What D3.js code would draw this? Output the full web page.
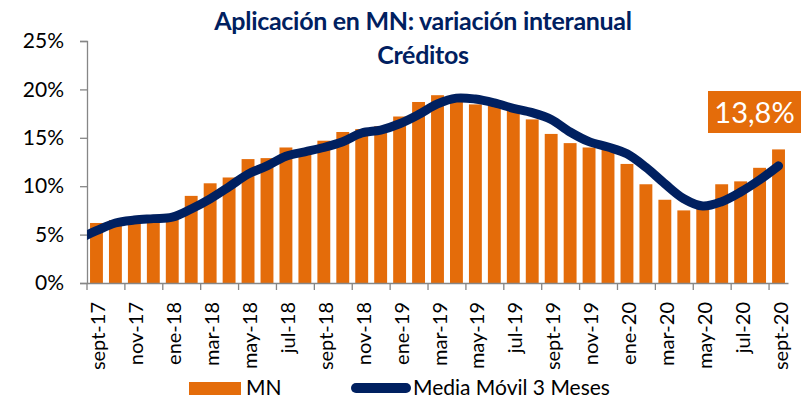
<!DOCTYPE html>
<html>
<head>
<meta charset="utf-8">
<script src="https://cdn.jsdelivr.net/npm/d3@7"></script>
<style>
  body { margin: 0; background: #fff; }
  text { font-family: Lato, "Open Sans", sans-serif; }
</style>
</head>
<body>
<svg width="802" height="400"></svg>
<script>
(function () {

  // months shown as bars
  const months = [
    "sept-17", "oct-17", "nov-17", "dic-17", "ene-18", "feb-18", "mar-18", "abr-18",
    "may-18", "jun-18", "jul-18", "ago-18", "sept-18", "oct-18", "nov-18", "dic-18",
    "ene-19", "feb-19", "mar-19", "abr-19", "may-19", "jun-19", "jul-19", "ago-19",
    "sept-19", "oct-19", "nov-19", "dic-19", "ene-20", "feb-20", "mar-20", "abr-20",
    "may-20", "jun-20", "jul-20", "ago-20", "sept-20"
  ];

  // MN, % interanual
  const mn = [
    6.2, 6.5, 6.6, 6.7, 6.9, 9.0, 10.3, 10.9,
    12.8, 12.9, 14.0, 13.6, 14.7, 15.6, 15.9, 16.2,
    17.2, 18.7, 19.4, 19.0, 18.45, 18.3, 17.9, 16.9,
    15.4, 14.45, 14.0, 13.8, 12.3, 10.2, 8.6, 7.5,
    8.0, 10.2, 10.5, 11.9, 13.8
  ];

  // media movil 3 meses, starting one month earlier (ago-17) -- clipped at the axis
  const maMonths = ["ago-17"].concat(months);
  const ma = [
    4.5, 5.4, 6.2, 6.5, 6.65, 6.8, 7.65, 8.7, 9.95,
    11.25, 12.1, 13.1, 13.55, 14.0, 14.6, 15.5, 15.8,
    16.45, 17.4, 18.5, 19.1, 19.0, 18.6, 18.05, 17.6,
    16.9, 15.6, 14.6, 14.05, 13.35, 11.95, 10.25, 8.7,
    7.95, 8.4, 9.4, 10.65, 12.1
  ];

  const yTicks = [0, 5, 10, 15, 20, 25];
  const titleLines = ["Aplicación en MN: variación interanual", "Créditos"];
  const legendItems = ["MN", "Media Móvil 3 Meses"];

  const orange = "#e46c0a";
  const navy = "#002060";
  const axisGrey = "#868686";

  const svg = d3.select("svg");
  const left = 87, right = 788, top = 41, bottom = 283;

  const x = d3.scaleBand()
    .domain(months)
    .range([left, right])
    .paddingInner(0.32)
    .paddingOuter(0.16);

  const y = d3.scaleLinear()
    .domain([0, 25])
    .range([bottom, top]);

  const step = x.step();
  const cx = m => m === "ago-17" ? x(months[0]) + x.bandwidth() / 2 - step
                                  : x(m) + x.bandwidth() / 2;

  // title
  svg.append("g")
    .selectAll("text")
    .data(titleLines)
    .enter().append("text")
    .attr("x", 423)
    .attr("y", (d, i) => 30 + i * 34)
    .attr("text-anchor", "middle")
    .attr("font-size", 25)
    .attr("font-weight", "bold")
    .attr("letter-spacing", -0.3)
    .attr("fill", navy)
    .text(d => d);

  // bars
  svg.append("g")
    .selectAll("rect")
    .data(mn)
    .enter().append("rect")
    .attr("x", (d, i) => x(months[i]))
    .attr("width", x.bandwidth())
    .attr("y", d => y(d))
    .attr("height", d => y(0) - y(d))
    .attr("fill", orange);

  // y axis
  const yAxis = svg.append("g")
    .attr("transform", `translate(${left},0)`)
    .call(d3.axisLeft(y).tickValues(yTicks).tickSize(7).tickPadding(16).tickFormat(d => d + "%"));
  yAxis.select(".domain").attr("stroke", axisGrey).attr("stroke-width", 1.3);
  yAxis.selectAll(".tick line").attr("stroke", axisGrey).attr("stroke-width", 1.3);
  yAxis.selectAll("text")
    .attr("font-size", 21)
    .attr("fill", "#000")
    .style("font-family", "Lato, sans-serif");

  // x axis
  const xAxis = svg.append("g")
    .attr("transform", `translate(0,${bottom})`)
    .call(d3.axisBottom(x).tickSize(0).tickFormat(""));
  xAxis.select(".domain").attr("stroke", axisGrey).attr("stroke-width", 1.3);

  const every2 = months.filter((m, i) => i % 2 === 0);

  xAxis.append("g")
    .selectAll("line")
    .data(every2)
    .enter().append("line")
    .attr("x1", m => x(m) - step * x.paddingInner() / 2)
    .attr("x2", m => x(m) - step * x.paddingInner() / 2)
    .attr("y1", 0)
    .attr("y2", 7)
    .attr("stroke", axisGrey)
    .attr("stroke-width", 1.3);

  xAxis.append("g")
    .selectAll("text")
    .data(every2)
    .enter().append("text")
    .attr("transform", m => `translate(${cx(m) + 9},19) rotate(-90)`)
    .attr("text-anchor", "end")
    .attr("font-size", 20)
    .attr("fill", "#000")
    .text(m => m);

  // moving average line
  svg.append("clipPath")
    .attr("id", "plot")
    .append("rect")
    .attr("x", left)
    .attr("y", 0)
    .attr("width", 802 - left)
    .attr("height", bottom);

  const line = d3.line()
    .x((d, i) => cx(maMonths[i]))
    .y(d => y(d))
    .curve(d3.curveCatmullRom.alpha(0.5));

  svg.append("path")
    .datum(ma)
    .attr("clip-path", "url(#plot)")
    .attr("d", line)
    .attr("fill", "none")
    .attr("stroke", navy)
    .attr("stroke-width", 9)
    .attr("stroke-linecap", "round")
    .attr("stroke-linejoin", "round");

  // last value label
  const last = mn[mn.length - 1];
  const lab = svg.append("g").attr("transform", "translate(708,91)");
  lab.append("rect")
    .attr("width", 93)
    .attr("height", 42)
    .attr("fill", orange);
  lab.append("text")
    .attr("x", 46.5)
    .attr("y", 32)
    .attr("text-anchor", "middle")
    .attr("font-size", 29)
    .attr("fill", "#fff")
    .text(d3.format(".1f")(last).replace(".", ",") + "%");

  // legend
  const leg = svg.append("g");
  leg.append("rect")
    .attr("x", 189).attr("y", 382)
    .attr("width", 52).attr("height", 13)
    .attr("fill", orange);
  leg.append("text")
    .attr("x", 246).attr("y", 395)
    .attr("font-size", 21)
    .attr("fill", "#000")
    .text(legendItems[0]);
  leg.append("line")
    .attr("x1", 356).attr("x2", 406)
    .attr("y1", 388).attr("y2", 388)
    .attr("stroke", navy)
    .attr("stroke-width", 10)
    .attr("stroke-linecap", "round");
  leg.append("text")
    .attr("x", 413).attr("y", 395)
    .attr("font-size", 21)
    .attr("fill", "#000")
    .text(legendItems[1]);

}());
</script>
</body>
</html>
